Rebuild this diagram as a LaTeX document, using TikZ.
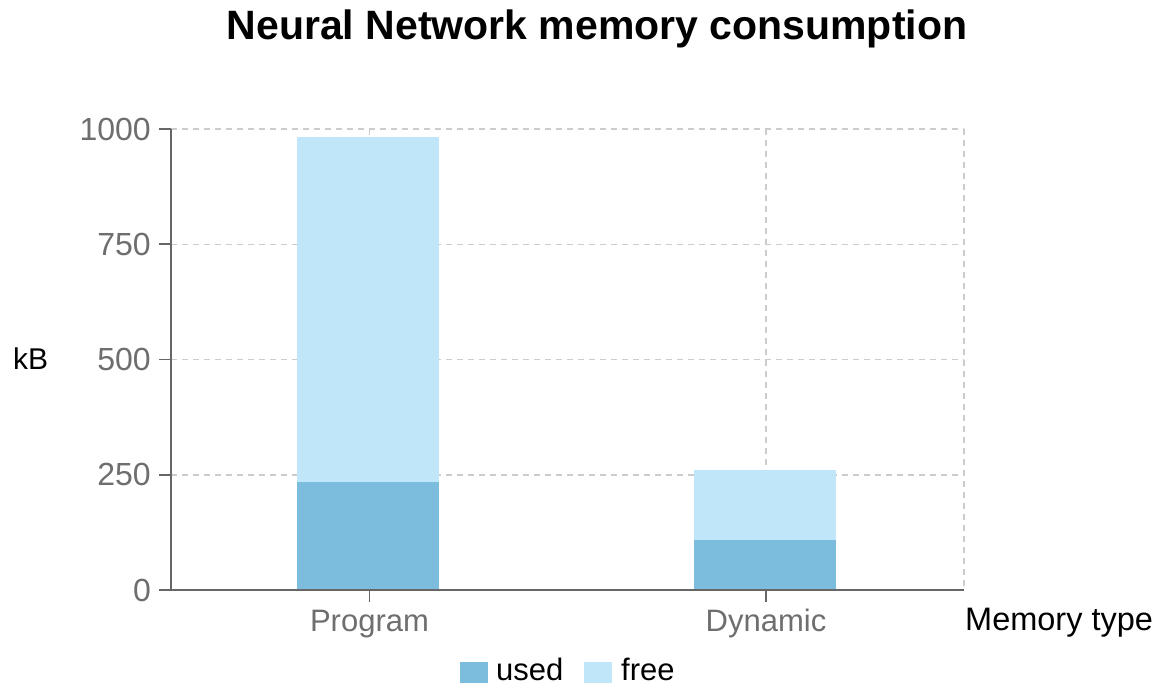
\documentclass[tikz,border=0pt]{standalone}
\usepackage{fontspec}
\setmainfont{Liberation Sans}
\definecolor{usedc}{RGB}{124,189,222}
\definecolor{freec}{RGB}{191,231,249}
\definecolor{axisc}{RGB}{102,102,102}
\definecolor{gridc}{RGB}{204,204,204}
\definecolor{tickc}{RGB}{110,110,110}
\begin{document}
\begin{tikzpicture}[x=1pt,y=-1pt,
  gridline/.style={draw=gridc,line width=1.4pt,dash pattern=on 6pt off 5pt},
  axisline/.style={draw=axisc,line width=2pt},
  tickmark/.style={draw=axisc,line width=1.6pt},
  ticklabel/.style={text=tickc,font=\fontsize{31}{37}\selectfont,inner sep=0pt},
  valuelabel/.style={text=tickc,font=\fontsize{32}{38}\selectfont,inner sep=0pt},
  axislabel/.style={text=black,font=\fontsize{31}{37}\selectfont,inner sep=0pt},
  usedbar/.style={fill=usedc,draw=none},
  freebar/.style={fill=freec,draw=none}]
\useasboundingbox (0,0) rectangle (1160,687);

% title
\node[font=\fontsize{41}{48}\selectfont\bfseries,anchor=base,inner sep=0pt] (title) at (597,40) {Neural Network memory consumption};

% plot frame corners
\coordinate (o) at (171,590);
\coordinate (xend) at (964,590);
\coordinate (ytop) at (171,129);

% grid
\foreach \yy in {129,244.3,359.5,474.8}
  \draw[gridline] (171,\yy) -- (964,\yy);
\foreach \xx in {369.5,766,964}
  \draw[gridline] (\xx,129) -- (\xx,590);

% stacked bars
\path[usedbar] (297,590) rectangle (439,481.7);
\path[freebar] (297,481.7) rectangle (439,137.5);
\path[usedbar] (694,590) rectangle (836,540.3);
\path[freebar] (694,540.3) rectangle (836,470.4);

% axes
\draw[axisline] (ytop) -- (o) -- (xend);

% y ticks and labels
\foreach \yy/\lab in {129/1000,244.3/750,359.5/500,474.8/250,590/0}{
  \draw[tickmark] (159,\yy) -- (171,\yy);
  \node[valuelabel,anchor=east] at (151,\yy) {\lab};
}

% x ticks and labels
\draw[tickmark] (369.5,590) -- (369.5,602);
\draw[tickmark] (766,590) -- (766,602);
\node[ticklabel,anchor=base] (prog) at (369.5,631) {Program};
\node[ticklabel,anchor=base] (dyn) at (766,631) {Dynamic};

% axis titles
\node[axislabel,anchor=base west,font=\fontsize{32.5}{38}\selectfont] (xlab) at (965,630) {Memory type};
\node[axislabel,anchor=base west,font=\fontsize{30}{36}\selectfont] (ylab) at (13,369) {kB};

% legend
\path[usedbar] (460,661.7) rectangle (488.3,683.3);
\node[axislabel,anchor=base west] (lused) at (496,680) {used};
\path[freebar] (584,661.7) rectangle (612.3,683.3);
\node[axislabel,anchor=base west] (lfree) at (621,680) {free};
\end{tikzpicture}
\end{document}
